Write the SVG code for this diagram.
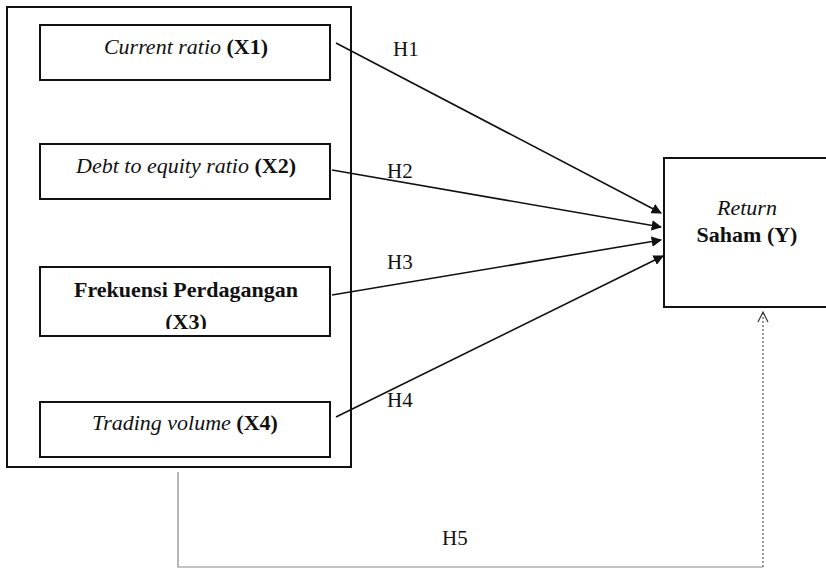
<svg xmlns="http://www.w3.org/2000/svg" width="826" height="569" viewBox="0 0 826 569">
<style>
.box{fill:#fff;stroke:#111;stroke-width:2}
.t{font-family:"Liberation Serif","Times New Roman",serif;font-size:22px;fill:#111;text-anchor:middle}
.i{font-style:italic}
.b{font-weight:bold}
.h{font-family:"Liberation Serif","Times New Roman",serif;font-size:21px;fill:#111}
.arr{stroke:#111;stroke-width:1.6;fill:none;marker-end:url(#ah)}
</style>
<defs>
<marker id="ah" viewBox="0 0 10 10" refX="9" refY="5" markerWidth="6.5" markerHeight="6.5" orient="auto" markerUnits="strokeWidth">
<path d="M0,0 L10,5 L0,10 z" fill="#111"/>
</marker>
<clipPath id="cx3"><rect x="40" y="267" width="290" height="62"/></clipPath>
</defs>
<rect width="826" height="569" fill="#fff"/>
<g id="outer"><rect class="box" x="7" y="7" width="344" height="460"/></g>
<g id="x1"><rect class="box" x="40" y="25" width="290" height="55"/>
<text class="t" x="186" y="54"><tspan class="i">Current ratio</tspan> <tspan class="b">(X1)</tspan></text></g>
<g id="x2"><rect class="box" x="40" y="144" width="290" height="55"/>
<text class="t" x="186" y="173"><tspan class="i">Debt to equity ratio</tspan> <tspan class="b">(X2)</tspan></text></g>
<g id="x3"><rect class="box" x="40" y="267" width="290" height="69"/>
<text class="t b" x="186" y="297">Frekuensi Perdagangan</text>
<text class="t b" x="186" y="329" clip-path="url(#cx3)">(X3)</text></g>
<g id="x4"><rect class="box" x="40" y="402" width="290" height="55"/>
<text class="t" x="185" y="430"><tspan class="i">Trading volume</tspan> <tspan class="b">(X4)</tspan></text></g>
<g id="y"><rect class="box" x="664" y="158" width="170" height="149"/>
<text class="t i" x="747" y="215">Return</text>
<text class="t b" x="747" y="242">Saham (Y)</text></g>
<g id="connectors">
<line class="arr" x1="336" y1="43" x2="661" y2="213"/>
<line class="arr" x1="332" y1="170" x2="661" y2="227"/>
<line class="arr" x1="332" y1="295" x2="661" y2="240"/>
<line class="arr" x1="336" y1="417" x2="663" y2="256"/>
<polyline points="178,472 178,567 763,567" fill="none" stroke="#888" stroke-width="1.2"/>
<line x1="763" y1="567" x2="763" y2="312" stroke="#555" stroke-width="1.2" stroke-dasharray="2,2"/>
<polyline points="758,322 763,312 768,322" fill="none" stroke="#333" stroke-width="1.2"/>
</g>
<g id="labels">
<text class="h" x="393" y="56">H1</text>
<text class="h" x="387" y="178">H2</text>
<text class="h" x="387" y="269">H3</text>
<text class="h" x="387" y="407">H4</text>
<text class="h" x="442" y="545">H5</text>
</g>
</svg>
